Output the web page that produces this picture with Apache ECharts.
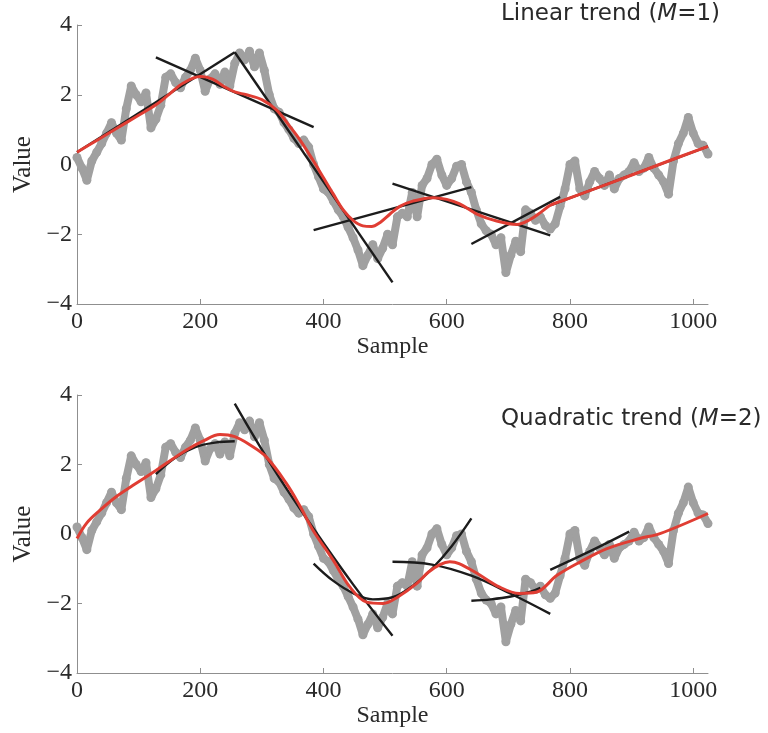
<!DOCTYPE html>
<html>
<head>
<meta charset="utf-8">
<script src="https://cdn.jsdelivr.net/npm/echarts@6/dist/echarts.min.js"></script>
<style>
  html, body { margin: 0; padding: 0; background: #fff; }
  #chart { width: 768px; height: 733px; }
</style>
</head>
<body>
<div id="chart"></div>
<script>
// Noisy signal (sample index, value)
const samples = [0,8,16,24,32,40,48,56,64,72,80,88,96,104,112,120,128,136,144,152,160,168,176,184,192,200,
  208,216,224,232,240,248,256,264,272,280,288,296,304,312,320,328,336,344,352,360,368,376,384,392,400,
  408,416,424,432,440,448,456,464,472,480,488,496,504,512,520,528,536,544,552,560,568,576,584,592,600,
  608,616,624,632,640,648,656,664,672,680,688,696,704,712,720,728,736,744,752,760,768,776,784,792,800,
  808,816,824,832,840,848,856,864,872,880,888,896,904,912,920,928,936,944,952,960,968,976,984,992,1000,
  1008,1016,1024];
const values = [0.2,-0.1,-0.45,0.1,0.35,0.6,0.9,1.2,0.9,0.7,1.6,2.25,2.0,1.8,2.05,1.05,1.3,1.7,2.5,2.6,2.35,2.2,2.5,2.7,3.05,2.7,
  2.1,2.45,2.6,2.3,2.65,2.25,2.9,3.2,3.0,3.25,2.8,3.2,2.7,2.0,1.6,1.5,1.2,1.0,0.75,0.6,0.7,0.5,0.0,-0.35,-0.7,
  -0.8,-1.05,-1.3,-1.5,-1.8,-2.1,-2.45,-2.9,-2.6,-2.3,-2.7,-2.4,-2.0,-2.3,-1.5,-1.4,-1.5,-0.8,-1.5,-0.6,-0.4,0.0,0.15,-0.3,-0.6,
  -0.4,-0.05,0.0,-0.5,-0.8,-1.3,-1.7,-1.9,-2.0,-2.3,-2.1,-3.1,-2.6,-2.2,-2.5,-1.3,-1.4,-1.6,-1.5,-1.75,-1.85,-1.7,-1.2,-0.7,0.0,
  0.1,-0.7,-0.9,-0.5,-0.2,-0.4,-0.6,-0.3,-0.7,-0.4,-0.3,-0.2,0.05,-0.2,-0.1,0.2,-0.1,-0.3,-0.5,-0.85,0.1,0.6,0.9,1.35,0.9,
  0.6,0.55,0.3];

// Linear (M=1) trend
const trendLinX = [0,32,64,96,128,150,172,200,220,240,256,275,300,324,345,362,383,400,416,432,448,464,478,492,508,524,545,578,
  600,621,649,681,714,735,752,768,784,832,896,960,1024];
const trendLinY = [0.35,0.69,1.03,1.37,1.71,2.02,2.33,2.52,2.45,2.22,2.08,2.0,1.86,1.56,1.1,0.7,0.12,-0.38,-0.85,-1.3,-1.6,-1.76,-1.78,-1.66,-1.42,-1.2,-1.05,-0.95,
  -1.0,-1.13,-1.42,-1.62,-1.72,-1.58,-1.38,-1.17,-1.06,-0.75,-0.33,0.1,0.52];

// Local linear fits: start/end sample and value of each segment
const linSegX0 = [0,128,256,384,512,640,768];
const linSegX1 = [256,384,512,640,768,784,1024];
const linSegY0 = [0.35,3.07,3.22,-1.88,-0.55,-2.28,-1.17];
const linSegY1 = [3.22,1.07,-3.38,-0.65,-2.03,-0.93,0.52];

// Quadratic (M=2) trend
const trendQuadX = [0,16,37,64,91,128,177,205,232,256,281,307,340,362,383,416,443,470,497,520,551,570,589,605,620,649,686,718,746,
  779,816,860,913,946,1024];
const trendQuadY = [-0.13,0.32,0.68,1.08,1.4,1.83,2.41,2.68,2.86,2.8,2.56,2.22,1.45,0.8,0.11,-0.76,-1.53,-1.96,-2.0,-1.82,-1.43,-1.1,-0.88,-0.8,-0.85,-1.13,-1.53,-1.71,-1.67,
  -1.19,-0.81,-0.42,-0.13,0.01,0.59];

// Local quadratic fits
const quadSegX = [
  [128,160,192,224,256],
  [256,320,384,448,512],
  [384,416,448,480,512,544,576,608,640],
  [512,576,640,704,768],
  [640,672,704,736,752],
  [768,832,896]
];
const quadSegY = [
  [1.72,2.2,2.5,2.63,2.67],
  [3.75,1.85,0.15,-1.45,-2.93],
  [-0.85,-1.35,-1.7,-1.88,-1.82,-1.5,-1.0,-0.35,0.45],
  [-0.8,-0.88,-1.2,-1.72,-2.3],
  [-1.92,-1.88,-1.8,-1.66,-1.55],
  [-1.03,-0.5,0.07]
];

const xTicks = [0, 200, 400, 600, 800, 1000];
const yTicks = [-4, -2, 0, 2, 4];

const serif = 'Liberation Serif';
const sans = 'DejaVu Sans';
const GRAY = '#a0a0a0', RED = '#e03d33', BLACK = '#1c1c1c', AXIS = '#8f8f8f';

const zip = (xs, ys) => xs.map((x, i) => [x, ys[i]]);

function xAxisFor(idx) {
  return {
    gridIndex: idx, type: 'value', min: xTicks[0], max: 1024, interval: xTicks[1] - xTicks[0],
    name: 'Sample', nameLocation: 'middle', nameGap: 29,
    nameTextStyle: { fontFamily: serif, fontSize: 24, color: '#2a2a2a' },
    axisLine: { show: true, onZero: false, lineStyle: { color: AXIS, width: 1 } },
    axisTick: { show: true, inside: true, length: 5, lineStyle: { color: AXIS } },
    axisLabel: { showMaxLabel: false, margin: 6, fontFamily: serif, fontSize: 24, color: '#2a2a2a',
      formatter: v => String(v) },
    splitLine: { show: false }
  };
}
function yAxisFor(idx) {
  return {
    gridIndex: idx, type: 'value', min: yTicks[0], max: yTicks[yTicks.length - 1], interval: 2,
    name: 'Value', nameLocation: 'middle', nameGap: 41, nameRotate: 90,
    nameTextStyle: { fontFamily: serif, fontSize: 25, color: '#2a2a2a' },
    axisLine: { show: true, onZero: false, lineStyle: { color: AXIS, width: 1 } },
    axisTick: { show: true, inside: true, length: 5, lineStyle: { color: AXIS } },
    axisLabel: { margin: 5, fontFamily: serif, fontSize: 24, color: '#2a2a2a',
      formatter: v => String(v).replace('-', '\u2212') },
    splitLine: { show: false }
  };
}

const series = [];
[0, 1].forEach(g => {
  series.push({
    type: 'line', xAxisIndex: g, yAxisIndex: g, data: zip(samples, values),
    showSymbol: true, symbol: 'circle', symbolSize: 9, itemStyle: { color: GRAY },
    lineStyle: { color: GRAY, width: 8, cap: 'round', join: 'round' },
    silent: true, animation: false, z: 1
  });
});
linSegX0.forEach((x0, i) => {
  series.push({
    type: 'line', xAxisIndex: 0, yAxisIndex: 0,
    data: [[x0, linSegY0[i]], [linSegX1[i], linSegY1[i]]],
    showSymbol: false, lineStyle: { color: BLACK, width: 2.4 }, animation: false, z: 2
  });
});
quadSegX.forEach((xs, i) => {
  series.push({
    type: 'line', xAxisIndex: 1, yAxisIndex: 1, data: zip(xs, quadSegY[i]), smooth: 0.4,
    showSymbol: false, lineStyle: { color: BLACK, width: 2.4 }, animation: false, z: 2
  });
});
series.push({
  type: 'line', xAxisIndex: 0, yAxisIndex: 0, data: zip(trendLinX, trendLinY), smooth: 0.35,
  showSymbol: false, lineStyle: { color: RED, width: 3 }, animation: false, z: 3
});
series.push({
  type: 'line', xAxisIndex: 1, yAxisIndex: 1, data: zip(trendQuadX, trendQuadY), smooth: 0.35,
  showSymbol: false, lineStyle: { color: RED, width: 3 }, animation: false, z: 3
});

const titleStyle = {
  fontFamily: sans, fontSize: 23, fontWeight: 'normal', color: '#2a2a2a',
  rich: { i: { fontFamily: sans, fontSize: 23, fontStyle: 'italic', color: '#2a2a2a' } }
};

const chart = echarts.init(document.getElementById('chart'), null, { renderer: 'canvas' });
chart.setOption({
  backgroundColor: '#fff',
  animation: false,
  title: [
    { text: 'Linear trend ({i|M}=1)', left: 501, top: 3, padding: 0, textStyle: titleStyle },
    { text: 'Quadratic trend ({i|M}=2)', left: 501, top: 408, padding: 0, textStyle: titleStyle }
  ],
  grid: [
    { left: 77, top: 25, width: 631, height: 279, containLabel: false },
    { left: 77, top: 395, width: 631, height: 278, containLabel: false }
  ],
  xAxis: [xAxisFor(0), xAxisFor(1)],
  yAxis: [yAxisFor(0), yAxisFor(1)],
  series: series
});
</script>
</body>
</html>
